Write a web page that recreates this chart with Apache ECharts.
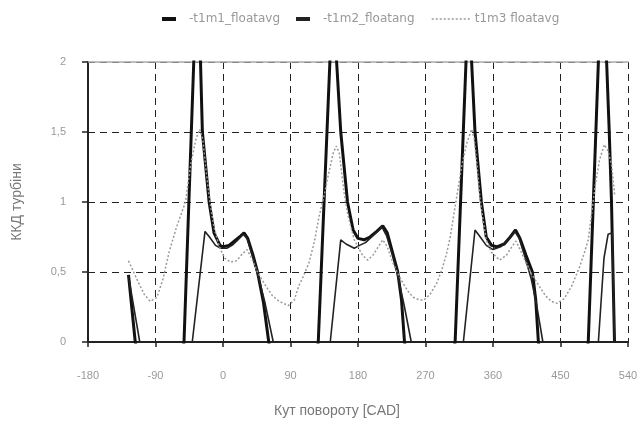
<!DOCTYPE html>
<html><head><meta charset="utf-8">
<script src="https://cdn.jsdelivr.net/npm/echarts@6/dist/echarts.min.js"></script>
<style>html,body{margin:0;padding:0;background:#fff}#c{width:644px;height:423px}</style>
</head><body><div id="c"></div>
<script>
const xTicks = [-180, -90, 0, 90, 180, 270, 360, 450, 540];
const yTickLabels = {"0": "0", "0.5": "0,5", "1": "1", "1.5": "1,5", "2": "2"};
const seriesNames = ["-t1m1_floatavg", "-t1m2_floatang", "t1m3 floatavg"];

const s1Angle = [-126,-117,-85,-52,-39,-34,-30,-27.5,-18.5,-12,-4,0,8,15,22,28,33,40,46,54,61,95,127,142.5,147,151.5,157,166,173.5,180,188,196,205,213,219,226,233,238,242,275,309.5,324,328,331.5,336,344.5,351,358,365,375,383,390,396,404,412.5,417,420.5,455,487,500.5,506,511.5,515,518,522];
const s1Value = [0.48,0,-1,0,2,2.4,2,1.5,1.0,0.78,0.69,0.68,0.69,0.72,0.75,0.78,0.74,0.62,0.5,0.28,0,-1,0,2,2.4,2,1.5,1.0,0.8,0.74,0.73,0.75,0.79,0.83,0.78,0.64,0.5,0.3,0,-1,0,2,2.4,2,1.5,1.0,0.75,0.69,0.68,0.70,0.75,0.8,0.74,0.62,0.5,0.3,0,-1,0,2,2.4,2,1.5,1.0,0];

const s2Angle = [-126,-111,-75,-41,-24,-18,-10,-3,5,12,20,27,32,40,48,56,67,105,143,157,164,175,182,190,200,212,218,226,234,242,251,285,320.5,336,343,351,360,370,380,389,395,403,411,418,426.5,463,500.5,508,513.5,519,522];
const s2Value = [0.47,0,-1,0,0.79,0.75,0.69,0.67,0.67,0.69,0.73,0.77,0.74,0.6,0.45,0.28,0,-1,0,0.73,0.70,0.67,0.69,0.71,0.76,0.82,0.76,0.62,0.45,0.25,0,-1,0,0.8,0.75,0.69,0.66,0.68,0.73,0.79,0.74,0.6,0.45,0.27,0,-1,0,0.6,0.77,0.78,0];

const s3Angle = [-126,-115,-105,-97,-88,-80,-72,-62,-50,-43,-36,-31,-27,-22,-17.5,-12,-5,2,10,18,26,32,38,46,57,66,75,87,95,101,108,114.6,122,128,135,141.5,147,151,155,161.6,166,170.6,175,180,186,193,200,207,213,219,226.6,233,240,247,253.5,262,268,276,285,292,298,303,311.7,318,325,331.5,335,339,342.4,347,351,358,368.8,378,385,390.7,397,404,412,421.5,430,438,445.6,455,465,475,482,487,491,496,502,508.4,513,518,522.4];
const s3Value = [0.58,0.45,0.34,0.29,0.32,0.45,0.64,0.82,1.0,1.27,1.45,1.52,1.45,1.2,1.0,0.82,0.68,0.6,0.57,0.58,0.63,0.66,0.6,0.5,0.40,0.33,0.29,0.26,0.3,0.40,0.48,0.565,0.72,0.895,1.05,1.22,1.35,1.40,1.35,1.06,0.92,0.82,0.73,0.68,0.62,0.585,0.62,0.68,0.73,0.68,0.565,0.49,0.42,0.36,0.32,0.30,0.30,0.34,0.42,0.52,0.63,0.75,1.04,1.25,1.42,1.52,1.45,1.25,1.04,0.86,0.73,0.64,0.585,0.62,0.68,0.72,0.65,0.565,0.48,0.40,0.33,0.29,0.276,0.31,0.40,0.53,0.64,0.73,0.9,1.107,1.3,1.41,1.37,1.27,1.04];

const zip = (a, b) => a.map((x, i) => [x, b[i]]);
const font = "Liberation Sans";
const legendFont = "DejaVu Sans";
const chart = echarts.init(document.getElementById('c'));
chart.setOption({
  animation: false,
  backgroundColor: '#fff',
  grid: {left: 88, right: 16, top: 62, bottom: 78},
  legend: [
    {data: [{name: seriesNames[0], icon: 'rect'}, {name: seriesNames[1], icon: 'rect'}],
     top: 8, left: 157, itemWidth: 14, itemHeight: 4, itemGap: 16,
     textStyle: {color: '#999', fontFamily: legendFont, fontSize: 12, width: 92, padding: [0,0,0,8]}},
    {data: [seriesNames[2]], top: 8, left: 426, itemWidth: 38, itemHeight: 10,
     itemStyle: {opacity: 0},
     lineStyle: {color: '#999', width: 1.5, type: [2, 2]},
     textStyle: {color: '#999', fontFamily: legendFont, fontSize: 12, padding: [0,0,0,0]}}
  ],
  xAxis: [{
    type: 'value', min: -180, max: 540, interval: 90,
    name: 'Кут повороту [CAD]', nameLocation: 'middle', nameGap: 62,
    nameTextStyle: {color: '#777', fontFamily: font, fontSize: 14, padding: [0, 42, 0, 0]},
    axisLine: {onZero: false, lineStyle: {color: '#222', width: 2}},
    axisTick: {show: true, length: 5, lineStyle: {color: '#222', width: 1.5}},
    axisLabel: {color: '#999', fontFamily: font, fontSize: 11, margin: 28,
      formatter: v => xTicks.includes(v) ? String(v) : ''},
    splitLine: {show: true, lineStyle: {color: '#222', type: [7, 5], width: 1}}
  }, {
    type: 'value', position: 'top', min: -180, max: 540,
    axisLine: {show: true, onZero: false, lineStyle: {color: '#aaa', width: 1.5}},
    axisTick: {show: false}, axisLabel: {show: false}, splitLine: {show: false}
  }],
  yAxis: [{
    type: 'value', min: 0, max: 2, interval: 0.5,
    name: 'ККД турбіни', nameLocation: 'middle', nameGap: 64,
    nameTextStyle: {color: '#777', fontFamily: font, fontSize: 14},
    axisLine: {show: true, onZero: false, lineStyle: {color: '#222', width: 2}},
    axisTick: {show: true, length: 6, lineStyle: {color: '#222', width: 1.5}},
    axisLabel: {color: '#999', fontFamily: font, fontSize: 11, margin: 22,
      formatter: v => yTickLabels[String(v)] ?? ''},
    splitLine: {show: true, lineStyle: {color: '#222', type: [7, 5], width: 1}}
  }],
  series: [
    {name: seriesNames[0], type: 'line', data: zip(s1Angle, s1Value), symbol: 'none', clip: true,
     lineStyle: {color: '#111', width: 3}, itemStyle: {color: '#111'}},
    {name: seriesNames[1], type: 'line', data: zip(s2Angle, s2Value), symbol: 'none', clip: true,
     lineStyle: {color: '#222', width: 1.6}, itemStyle: {color: '#222'}},
    {name: seriesNames[2], type: 'line', data: zip(s3Angle, s3Value), symbol: 'none', clip: true,
     lineStyle: {color: '#999', width: 1.5, type: [2, 2]}, itemStyle: {color: '#999'}}
  ]
});
</script></body></html>
